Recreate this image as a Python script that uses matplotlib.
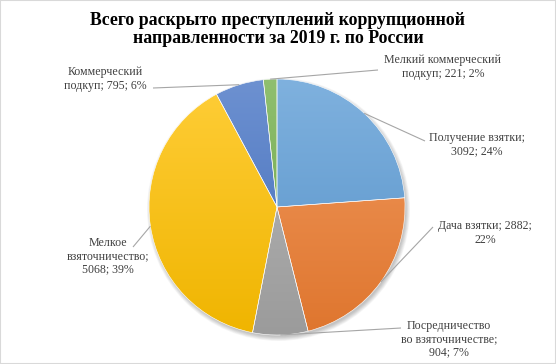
import numpy as np
import matplotlib
matplotlib.use('Agg')
import matplotlib.pyplot as plt
from matplotlib.patches import Circle, Rectangle
from matplotlib.colors import to_rgb

plt.rcParams['font.family'] = ['Liberation Serif', 'DejaVu Serif']

title = 'Всего раскрыто преступлений коррупционной\nнаправленности за 2019 г. по России'
categories = ['Получение взятки', 'Дача взятки', 'Посредничество во взяточничестве',
              'Мелкое взяточничество', 'Коммерческий подкуп', 'Мелкий коммерческий подкуп']
values = [3092, 2882, 904, 5068, 795, 221]
# label text as wrapped on the chart (name; value; percent)
label_fmt = ['Получение взятки;\n{v}; {p}%',
             'Дача взятки; {v};\n{p}%',
             'Посредничество\nво взяточничестве;\n{v}; {p}%',
             'Мелкое\nвзяточничество;\n{v}; {p}%',
             'Коммерческий\nподкуп; {v}; {p}%',
             'Мелкий коммерческий\nподкуп; {v}; {p}%']
colors = ['#5B9BD5', '#ED7D31', '#A5A5A5', '#FFC000', '#4472C4', '#70AD47']

W, H = 556, 364
cx, cy, R = 277, H - 207, 128

# label centers and leader start points, in pixels from the top-left
label_pos = [(477, 145), (485, 233), (449, 339), (108, 256), (105, 79), (443, 67)]
leader_start = [(425, 141), (433, 227), (401, 328), (133, 247), (153, 88), (378, 70)]

fig = plt.figure(figsize=(W / 100, H / 100), dpi=100)
ax = fig.add_axes([0, 0, 1, 1])

# soft shadow
for k in range(7):
    ax.add_patch(Circle((cx + 1.5, cy - 2.5), R + 3.5 - k * 0.7, color='black',
                        alpha=0.035, lw=0, zorder=0))

wedges, _ = ax.pie(values, startangle=90, counterclock=False, center=(cx, cy),
                   radius=R, colors=colors,
                   wedgeprops=dict(edgecolor='white', linewidth=0.4))


def shade(c, f):
    c = np.array(to_rgb(c))
    if f > 0:
        return c + (1 - c) * f
    return c * (1 + f)


for w, c in zip(wedges, colors):
    top, bot = shade(c, 0.22), shade(c, -0.06)
    t = np.linspace(0, 1, 256)[:, None]
    grad = (top[None, :] * (1 - t) + bot[None, :] * t)[:, None, :]
    im = ax.imshow(grad, extent=(cx - R, cx + R, cy - R, cy + R), origin='upper',
                   aspect='auto', zorder=1, interpolation='bilinear')
    im.set_clip_path(w)
    w.set_facecolor('none')
    w.set_zorder(2)

total = sum(values)
for i, w in enumerate(wedges):
    pct = round(values[i] / total * 100)
    txt = label_fmt[i].format(v=values[i], p=pct)
    lx, ly = label_pos[i]
    ax.text(lx, H - ly, txt, ha='center', va='center', fontsize=8.6,
            color='#404040', linespacing=1.15, zorder=5)
    mid = np.deg2rad((w.theta1 + w.theta2) / 2)
    ex, ey = cx + R * np.cos(mid), cy + R * np.sin(mid)
    sx, sy = leader_start[i]
    ax.plot([sx, ex], [H - sy, ey], color='#A6A6A6', lw=0.8, zorder=4,
            solid_capstyle='butt')

ax.text(278, H - 29.5, title, ha='center', va='center', fontsize=12.8,
        fontweight='bold', color='black', linespacing=1.1)

ax.set_xlim(0, W)
ax.set_ylim(0, H)
ax.set_aspect('equal')
ax.axis('off')

fig.patches.append(Rectangle((0, 0), 1, 1, transform=fig.transFigure, fill=False,
                             edgecolor='#D9D9D9', lw=1.5))

fig.savefig('out.png', dpi=100)
